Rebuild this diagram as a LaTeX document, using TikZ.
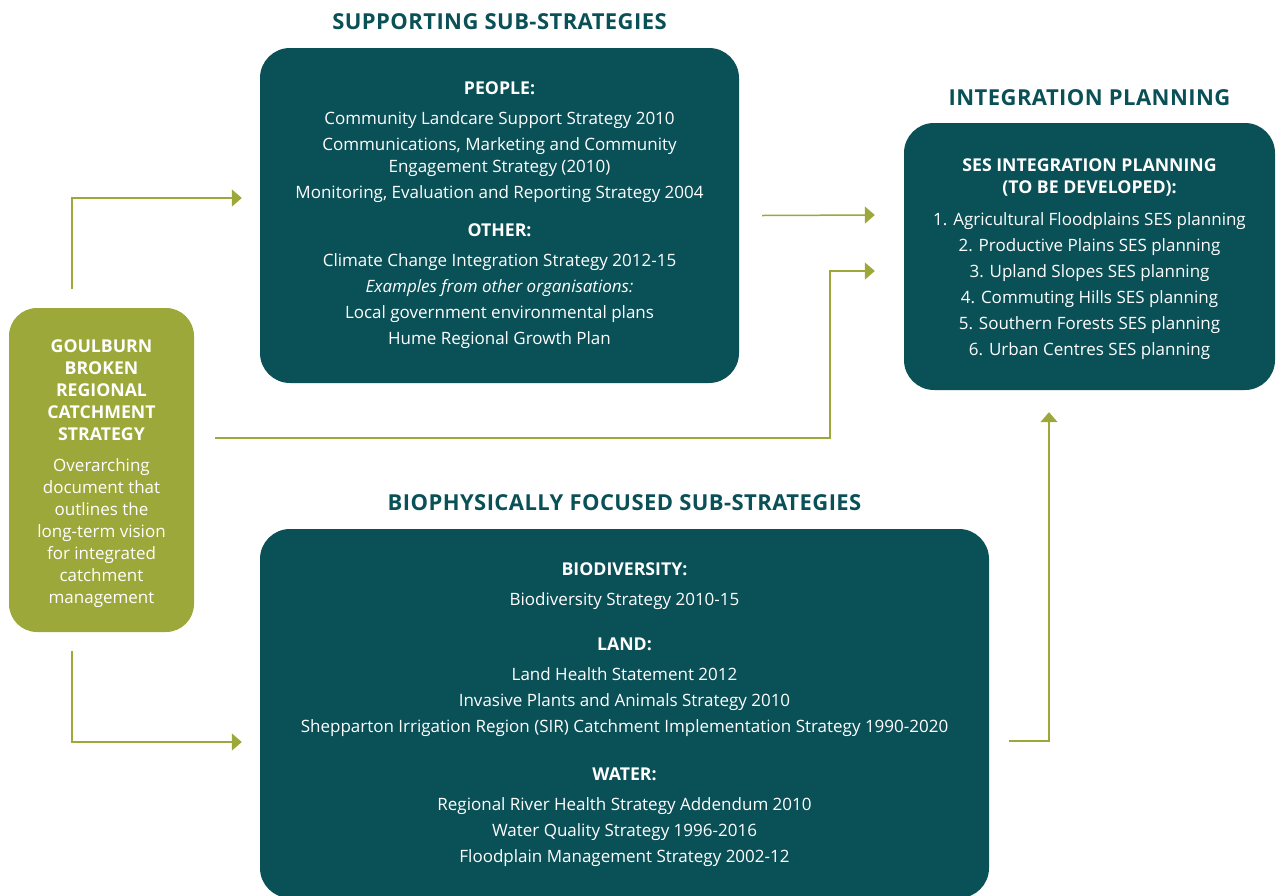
\documentclass[tikz,border=0pt]{standalone}
\usepackage{fontspec}
\setmainfont{Open Sans}
\usepackage{xcolor}
\usetikzlibrary{calc}
\usetikzlibrary{arrows.meta}
\usetikzlibrary{positioning}
\definecolor{gbteal}{HTML}{0A5057}
\definecolor{gbolive}{HTML}{9CA83A}
\newfontfamily\titlefont[LetterSpace=2]{Open Sans Bold}
\newcommand\boxhead[1]{{\fontsize{17.7}{22}\selectfont\bfseries #1}}

\begin{document}
\begin{tikzpicture}[x=1pt,y=-1pt]
			\tikzset{box/.style={shape=rectangle, fill=gbteal, text=white, rounded corners=30pt, align=center, font=\fontsize{17}{22}\selectfont, inner sep=0pt}}
			\tikzset{greenbox/.style={box, fill=gbolive, rounded corners=28pt}}
			\tikzset{title/.style={text=gbteal, font=\fontsize{22}{24}\selectfont, inner sep=0pt}}
			\tikzset{flow/.style={draw=gbolive, line width=1.5pt, -{Triangle[length=10pt,width=17pt]}}}
			\clip (0,0) rectangle (1278,895);
			\useasboundingbox (0,0) rectangle (1278,895);
			\node[box, minimum width=479pt, minimum height=335pt] (support) at (499.5,215.5)
				{\boxhead{PEOPLE:}\\[8pt]
				Community Landcare Support Strategy 2010\\[4pt]
				Communications, Marketing and Community\\
				Engagement Strategy (2010)\\[4pt]
				Monitoring, Evaluation and Reporting Strategy 2004\\[16pt]
				\boxhead{OTHER:}\\[8pt]
				Climate Change Integration Strategy 2012-15\\[4pt]
				\textit{Examples from other organisations:}\\[4pt]
				Local government environmental plans\\[4pt]
				Hume Regional Growth Plan};
			\node[box, minimum width=371pt, minimum height=267pt] (integration) at (1089.5,256.5)
				{\rule{0pt}{19pt}\boxhead{SES INTEGRATION PLANNING}\\
				\boxhead{(TO BE DEVELOPED):}\\[10pt]
				1. Agricultural Floodplains SES planning\\[4pt]
				2. Productive Plains SES planning\\[4pt]
				3. Upland Slopes SES planning\\[4pt]
				4. Commuting Hills SES planning\\[4pt]
				5. Southern Forests SES planning\\[4pt]
				6. Urban Centres SES planning};
			\node[greenbox, minimum width=185pt, minimum height=324pt] (strategy) at (101.5,470)
				{\rule{0pt}{21pt}\boxhead{GOULBURN}\\
				\boxhead{BROKEN}\\
				\boxhead{REGIONAL}\\
				\boxhead{CATCHMENT}\\
				\boxhead{STRATEGY}\\[9pt]
				Overarching\\
				document that\\
				outlines the\\
				long-term vision\\
				for integrated\\
				catchment\\
				management};
			\node[box, minimum width=729pt, minimum height=369pt] (bio) at (624.5,713.5)
				{\rule{0pt}{16pt}\boxhead{BIODIVERSITY:}\\[8pt]
				Biodiversity Strategy 2010-15\\[23pt]
				\boxhead{LAND:}\\[8pt]
				Land Health Statement 2012\\[4pt]
				Invasive Plants and Animals Strategy 2010\\[4pt]
				Shepparton Irrigation Region (SIR) Catchment Implementation Strategy 1990-2020\\[26pt]
				\boxhead{WATER:}\\[8pt]
				Regional River Health Strategy Addendum 2010\\[4pt]
				Water Quality Strategy 1996-2016\\[4pt]
				Floodplain Management Strategy 2002-12};
			% section titles
			\node[title] (supporttitle) at ([yshift=26pt]support.north) {\titlefont SUPPORTING SUB-STRATEGIES};
			\node[title] (integrationtitle) at ([yshift=25pt]integration.north) {\titlefont INTEGRATION PLANNING};
			\node[title] (biotitle) at ([yshift=26pt]bio.north) {\titlefont BIOPHYSICALLY FOCUSED SUB-STRATEGIES};
			% connectors
			\draw[flow] ([xshift=-29.5pt,yshift=19pt]strategy.north) |- ([xshift=-18pt,yshift=17.5pt]support.west);
			\draw[flow] ([xshift=21pt,yshift=32pt]strategy.east) -| ([xshift=-74pt,yshift=-14.5pt]integration.west) -- ([xshift=-29pt,yshift=-14.5pt]integration.west);
			\draw[flow] ([xshift=23pt]support.east) -- ([xshift=-29pt,yshift=41.5pt]integration.west);
			\draw[flow] ([xshift=-29.5pt,yshift=-19pt]strategy.south) |- ([xshift=-18pt,yshift=-28.5pt]bio.west);
			\draw[flow] ([xshift=20pt,yshift=-27.5pt]bio.east) -| ([xshift=-40.5pt,yshift=-22pt]integration.south);
		\end{tikzpicture}
\end{document}
